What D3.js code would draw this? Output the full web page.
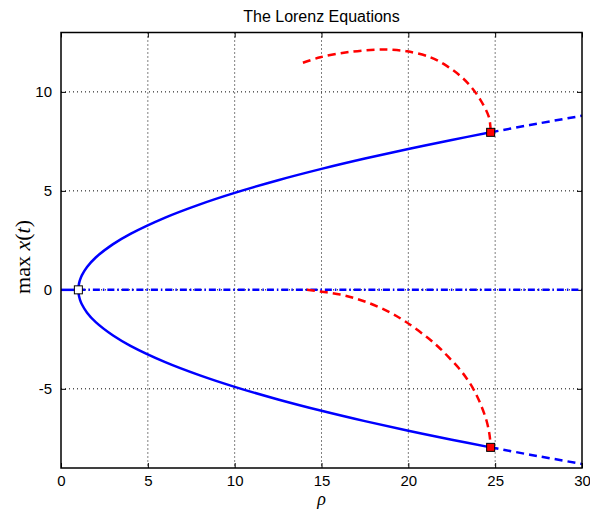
<!DOCTYPE html>
<html>
<head>
<meta charset="utf-8">
<script src="https://cdn.jsdelivr.net/npm/d3@7"></script>
<style>
  html, body { margin: 0; padding: 0; background: #fff; }
  svg { display: block; }
  text { font-family: "Liberation Sans", Arial, Helvetica, sans-serif; fill: #000; }
  .math { font-family: "Liberation Serif", "DejaVu Serif", serif; }
</style>
</head>
<body>
<svg id="chart" width="590" height="510"></svg>
<script>
// Stable fixed points C+/C- : rho versus max x(t)
const rhoStable = [1, 1.01, 1.05, 1.1, 1.2, 1.5, 2, 3, 4, 6, 8, 10, 12.5, 15, 17.5, 20, 22.5, 24.74];
const xStable   = [0, 0.163, 0.365, 0.516, 0.730, 1.155, 1.633, 2.309, 2.828, 3.651, 4.320, 4.899, 5.538, 6.110, 6.633, 7.118, 7.572, 7.957];

// Unstable continuation of C+/C- past the Hopf point
const rhoUnstable = [24.74, 27, 30];
const xUnstable   = [7.957, 8.327, 8.794];

// Origin: stable up to rho = 1, unstable beyond
const rhoOriginStable   = [0, 1];
const rhoOriginUnstable = [1, 30];

// Unstable periodic orbits (upper and lower branches)
const rhoOrbitUpper = [13.93, 14.93, 16.47, 18.1, 18.96, 19.93, 21.27, 22.23, 23.0, 23.57, 24.15, 24.63, 24.73, 24.74];
const xOrbitUpper   = [11.47, 11.75, 12.0, 12.13, 12.13, 12.05, 11.75, 11.3, 10.8, 10.3, 9.6, 8.75, 8.2, 7.957];
const rhoOrbitLower = [14.16, 16.08, 17.62, 18.96, 19.83, 21.08, 21.75, 22.32, 22.9, 23.38, 23.77, 24.15, 24.5, 24.68, 24.74];
const xOrbitLower   = [0, -0.24, -0.63, -1.15, -1.6, -2.40, -2.9, -3.4, -3.95, -4.5, -5.05, -5.75, -6.6, -7.35, -7.957];

// Bifurcation points
const pitchfork = { rho: 1, x: 0 };
const hopfRho = 24.74;
const hopfX = [7.957, -7.957];

const xTicks = [0, 5, 10, 15, 20, 25, 30];
const yTicks = [-5, 0, 5, 10];
const yTickLabels = ["-5", "0", "5", "10"];

const svg = d3.select("#chart");
const plot = { left: 61, right: 582, top: 32.5, bottom: 468 };

const x = d3.scaleLinear().domain([0, 30]).range([plot.left, plot.right]);
const y = d3.scaleLinear().domain([-9, 13]).range([plot.bottom, plot.top]);

// Grid
const grid = svg.append("g").attr("stroke", "#000").attr("stroke-width", 1).attr("stroke-dasharray", "1,3");
xTicks.filter(t => t > 0 && t < 30).forEach(t => {
  grid.append("line").attr("x1", x(t)).attr("x2", x(t)).attr("y1", plot.top).attr("y2", plot.bottom);
});
yTicks.forEach(t => {
  grid.append("line").attr("x1", plot.left).attr("x2", plot.right).attr("y1", y(t)).attr("y2", y(t));
});

// Axes (ticks pointing inward, on all four sides)
const tickLen = 5;
const axB = svg.append("g").attr("transform", `translate(0,${plot.bottom})`)
  .call(d3.axisBottom(x).tickValues(xTicks).tickSize(-tickLen).tickPadding(7).tickFormat(d3.format("d")));
const axT = svg.append("g").attr("transform", `translate(0,${plot.top})`)
  .call(d3.axisTop(x).tickValues(xTicks).tickSize(-tickLen).tickFormat(""));
const axL = svg.append("g").attr("transform", `translate(${plot.left},0)`)
  .call(d3.axisLeft(y).tickValues(yTicks).tickSize(-tickLen).tickPadding(9).tickFormat((d, i) => yTickLabels[i]));
const axR = svg.append("g").attr("transform", `translate(${plot.right},0)`)
  .call(d3.axisRight(y).tickValues(yTicks).tickSize(-tickLen).tickFormat(""));
[axB, axT, axL, axR].forEach(a => {
  a.select(".domain").remove();
  a.selectAll(".tick line").attr("stroke", "#000").attr("stroke-width", 1);
  a.selectAll("text").attr("font-size", 15).attr("font-family", "Liberation Sans, Arial, sans-serif");
});

svg.append("defs").append("clipPath").attr("id", "plotclip")
  .append("rect").attr("x", plot.left).attr("y", plot.top)
  .attr("width", plot.right - plot.left).attr("height", plot.bottom - plot.top);
const g = svg.append("g").attr("clip-path", "url(#plotclip)");

const line = d3.line().x(d => x(d[0])).y(d => y(d[1])).curve(d3.curveCatmullRom.alpha(0.5));
const pairs = (rs, xs) => rs.map((r, i) => [r, xs[i]]);

const blue = "#0000ff", red = "#ff0000";

// Origin branch
g.append("path").datum(pairs(rhoOriginStable, [0, 0])).attr("d", line)
  .attr("fill", "none").attr("stroke", blue).attr("stroke-width", 2.5);
g.append("path").datum(pairs(rhoOriginUnstable, [0, 0])).attr("d", line)
  .attr("fill", "none").attr("stroke", blue).attr("stroke-width", 2.5)
  .attr("stroke-dasharray", "7,3,1.5,3");

// Stable C+/C- branch as one curve through the pitchfork vertex
const upper = pairs(rhoStable, xStable);
const lower = pairs(rhoStable, xStable.map(v => -v));
const cBranch = lower.slice().reverse().concat(upper.slice(1));
g.append("path").datum(cBranch).attr("d", line)
  .attr("fill", "none").attr("stroke", blue).attr("stroke-width", 2.5);

// Unstable C+/C- continuation
[1, -1].forEach(s => {
  g.append("path").datum(pairs(rhoUnstable, xUnstable.map(v => s * v))).attr("d", line)
    .attr("fill", "none").attr("stroke", blue).attr("stroke-width", 2.5)
    .attr("stroke-dasharray", "8,5");
});

// Unstable periodic orbits
[pairs(rhoOrbitUpper, xOrbitUpper), pairs(rhoOrbitLower, xOrbitLower)].forEach(d => {
  g.append("path").datum(d).attr("d", line)
    .attr("fill", "none").attr("stroke", red).attr("stroke-width", 2.5)
    .attr("stroke-dasharray", "8,5");
});

// Box
svg.append("rect").attr("x", plot.left).attr("y", plot.top)
  .attr("width", plot.right - plot.left).attr("height", plot.bottom - plot.top)
  .attr("fill", "none").attr("stroke", "#000").attr("stroke-width", 1.5);

// Markers
const ms = 8;
svg.append("rect").attr("x", x(pitchfork.rho) - ms / 2).attr("y", y(pitchfork.x) - ms / 2)
  .attr("width", ms).attr("height", ms).attr("fill", "#fff").attr("stroke", "#000").attr("stroke-width", 1);
hopfX.forEach(v => {
  svg.append("rect").attr("x", x(hopfRho) - ms / 2).attr("y", y(v) - ms / 2)
    .attr("width", ms).attr("height", ms).attr("fill", red).attr("stroke", "#000").attr("stroke-width", 1);
});

// Title and labels
svg.append("text").attr("x", (plot.left + plot.right) / 2).attr("y", 22)
  .attr("text-anchor", "middle").attr("font-size", 16).text("The Lorenz Equations");

svg.append("text").attr("class", "math").attr("x", x(15)).attr("y", 505)
  .attr("text-anchor", "middle").attr("font-size", 18).attr("font-style", "italic").text("ρ");

const yl = svg.append("text").attr("class", "math")
  .attr("transform", `translate(30,${257}) rotate(-90)`)
  .attr("text-anchor", "middle").attr("font-size", 22);
yl.append("tspan").text("max ");
yl.append("tspan").attr("font-style", "italic").text("x");
yl.append("tspan").text("(");
yl.append("tspan").attr("font-style", "italic").text("t");
yl.append("tspan").text(")");
</script>
</body>
</html>
